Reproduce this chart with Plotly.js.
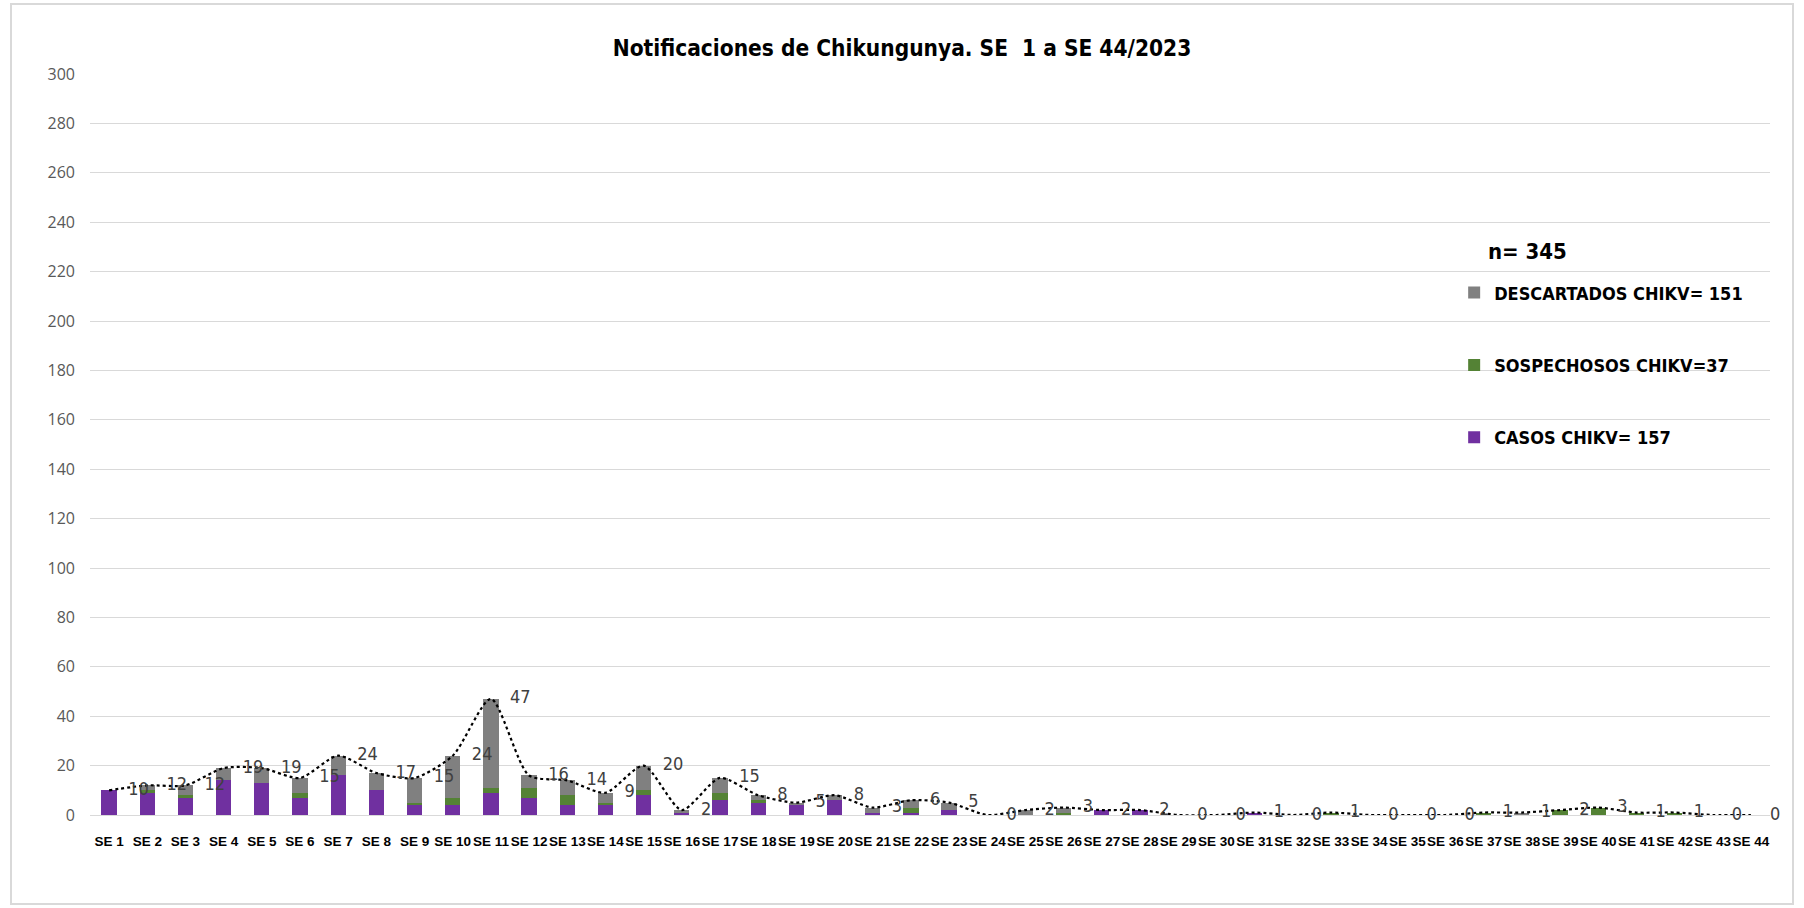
<!DOCTYPE html>
<html>
<head>
<meta charset="utf-8">
<script src="https://cdn.plot.ly/plotly-3.0.1.min.js"></script>
<style>
body{margin:0;background:#fff;}
#wrap{position:absolute;left:10px;top:3px;width:1784px;height:902px;border:2px solid #d9d9d9;box-sizing:border-box;background:#fff;}
#chart{width:1780px;height:898px;}
</style>
</head>
<body>
<div id="wrap"><div id="chart"></div></div>
<script>
const semanas = ["SE 1","SE 2","SE 3","SE 4","SE 5","SE 6","SE 7","SE 8","SE 9","SE 10","SE 11","SE 12","SE 13","SE 14","SE 15","SE 16","SE 17","SE 18","SE 19","SE 20","SE 21","SE 22","SE 23","SE 24","SE 25","SE 26","SE 27","SE 28","SE 29","SE 30","SE 31","SE 32","SE 33","SE 34","SE 35","SE 36","SE 37","SE 38","SE 39","SE 40","SE 41","SE 42","SE 43","SE 44"];
const casos       = [10,9,7,14,13,7,16,10,4,4,9,7,4,4,8,1,6,5,4,6,1,1,2,0,0,0,2,2,0,0,1,0,0,0,0,0,0,0,0,0,0,0,0,0];
const sospechosos = [0,1,1,0,0,2,0,0,1,3,2,4,4,1,2,0,3,1,0,0,0,2,0,0,0,1,0,0,0,0,0,0,1,0,0,0,1,0,2,3,1,1,0,0];
const descartados = [0,2,4,5,6,6,8,7,10,17,36,5,6,4,10,1,6,2,1,2,2,3,3,0,2,2,0,0,0,0,0,0,0,0,0,0,0,1,0,0,0,0,0,0];
const totales     = [10,12,12,19,19,15,24,17,15,24,47,16,14,9,20,2,15,8,5,8,3,6,5,0,2,3,2,2,0,0,1,0,1,0,0,0,1,1,2,3,1,1,0,0];
const yTicks = [0,20,40,60,80,100,120,140,160,180,200,220,240,260,280,300];

const narrow = "DejaVu Sans Condensed, Liberation Sans Narrow, sans-serif";

const data = [
  {type:'bar', name:'CASOS CHIKV= 157', x:semanas, y:casos, marker:{color:'#7030A0'}, legendgroup:'c', legendrank:3, hoverinfo:'x+y+name'},
  {type:'bar', name:'SOSPECHOSOS CHIKV=37', x:semanas, y:sospechosos, marker:{color:'#548235'}, legendgroup:'s', legendrank:2, hoverinfo:'x+y+name'},
  {type:'bar', name:'DESCARTADOS CHIKV= 151', x:semanas, y:descartados, marker:{color:'#808080'}, legendgroup:'d', legendrank:1, hoverinfo:'x+y+name'},
  {type:'scatter', mode:'lines+markers+text', name:'Total', x:semanas, y:totales, text:totales.map(String),
   textposition:'middle right', textfont:{family:narrow, size:18, color:'#404040'},
   line:{color:'#000000', width:2.2, dash:'dot', shape:'spline', smoothing:0.7},
   marker:{size:29, opacity:0, color:'#000'}, showlegend:false, cliponaxis:false, hoverinfo:'x+y'}
];

const layout = {
  width:1780, height:898,
  margin:{l:78, r:22, t:69, b:88, pad:0},
  paper_bgcolor:'#ffffff', plot_bgcolor:'#ffffff',
  barmode:'stack', bargap:0.6,
  title:{text:'Notificaciones de Chikungunya. SE\u00a0 1 a SE 44/2023', font:{family:narrow, size:22.5, color:'#000', weight:'bold'},
         x:0.5, xref:'container', xanchor:'center', y:0.952, yref:'container', yanchor:'middle'},
  xaxis:{type:'category', range:[-0.5, 43.5], autorange:false, showgrid:false, zeroline:false, showline:false, ticks:'',
         tickangle:0, tickfont:{family:'Liberation Sans, Arial, sans-serif', size:13.5, color:'#000', weight:'bold'},
         ticklabelstandoff:16, automargin:false, fixedrange:true},
  yaxis:{range:[0,300], autorange:false, tickvals:yTicks, ticktext:yTicks.map(String), showgrid:true, gridcolor:'#d9d9d9', gridwidth:1,
         zeroline:true, zerolinecolor:'#d9d9d9', zerolinewidth:1, showline:false, ticks:'',
         tickfont:{family:'Open Sans, Noto Sans, sans-serif', size:16, color:'#595959'}, ticklabelstandoff:14, automargin:false, fixedrange:true},
  legend:{x:0.812, y:0.7296, xanchor:'left', yanchor:'top', bgcolor:'rgba(0,0,0,0)', borderwidth:0,
          traceorder:'grouped', tracegroupgap:46,
          font:{family:narrow, size:18, color:'#000', weight:'bold'}},
  annotations:[{text:'n= 345', xref:'paper', yref:'paper', x:0.831, y:0.7606, xanchor:'left', yanchor:'middle',
                showarrow:false, font:{family:narrow, size:22, color:'#000', weight:'bold'}}]
};

Plotly.newPlot('chart', data, layout, {displayModeBar:false});
</script>
</body>
</html>
